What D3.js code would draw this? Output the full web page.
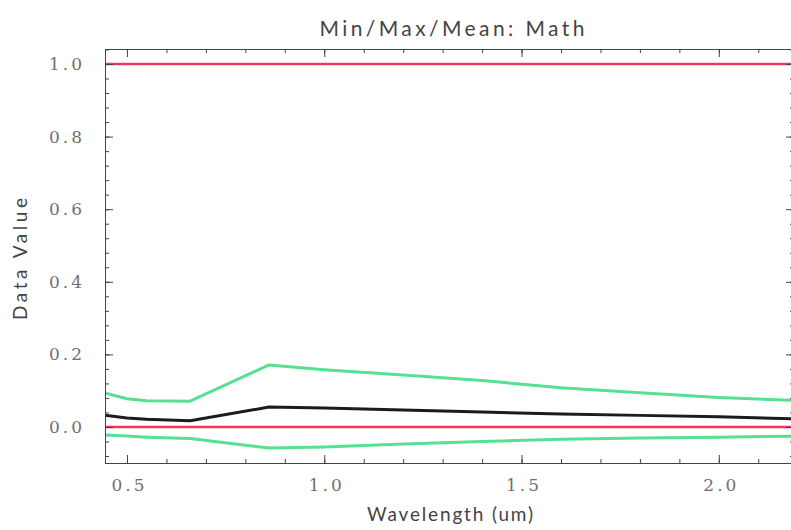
<!DOCTYPE html>
<html>
<head>
<meta charset="utf-8">
<script src="https://cdn.jsdelivr.net/npm/d3@7"></script>
<style>
  html, body { margin: 0; padding: 0; background: #fff; }
  svg { display: block; }
</style>
</head>
<body>
<svg id="chart" width="791" height="530"></svg>
<script>
// Wavelength samples (um) and the four statistics lines
const wavelength = [0.44, 0.5, 0.55, 0.66, 0.86, 1.0, 1.2, 1.4, 1.6, 1.8, 2.0, 2.2];
const maxValues  = [1.0, 1.0, 1.0, 1.0, 1.0, 1.0, 1.0, 1.0, 1.0, 1.0, 1.0, 1.0];
const minValues  = [0.0, 0.0, 0.0, 0.0, 0.0, 0.0, 0.0, 0.0, 0.0, 0.0, 0.0, 0.0];
const meanValues = [0.033, 0.025, 0.021, 0.017, 0.055, 0.052, 0.047, 0.041, 0.036, 0.032, 0.028, 0.022];
const upperStd   = [0.095, 0.078, 0.072, 0.071, 0.171, 0.158, 0.143, 0.128, 0.108, 0.094, 0.081, 0.073];
const lowerStd   = [-0.022, -0.025, -0.028, -0.032, -0.058, -0.055, -0.047, -0.040, -0.034, -0.030, -0.028, -0.025];

const xMajorTicks = [0.5, 1.0, 1.5, 2.0];
const yMajorTicks = [0.0, 0.2, 0.4, 0.6, 0.8, 1.0];

const titleText = "Min/Max/Mean: Math";
const xLabelText = "Wavelength (um)";
const yLabelText = "Data Value";

// Layout - right frame sits just past the edge of the picture
const plot = { left: 105, top: 49, right: 794, bottom: 463 };
const axisColor = "#444";
const labelColor = "#707070";

const svg = d3.select("#chart");

const x = d3.scaleLinear().domain([0.4443, 2.1905]).range([plot.left, plot.right]);
const y = d3.scaleLinear().domain([-0.0992, 1.0413]).range([plot.bottom, plot.top]);

const xMinor = d3.range(0.5, 2.19, 0.1).map(v => +v.toFixed(2));
const yMinor = d3.range(-0.08, 1.05, 0.04).map(v => +v.toFixed(2));

// clip for the lines
svg.append("clipPath").attr("id", "clip")
  .append("rect")
  .attr("x", plot.left).attr("y", plot.top)
  .attr("width", plot.right - plot.left).attr("height", plot.bottom - plot.top);

// Series
const series = [
  { values: maxValues,  color: "#e93a62", width: 2.4 },
  { values: minValues,  color: "#e93a62", width: 2.4 },
  { values: upperStd,   color: "#55e092", width: 3 },
  { values: lowerStd,   color: "#55e092", width: 3 },
  { values: meanValues, color: "#1c1c1c", width: 3 }
];

const line = d3.line()
  .x(d => x(d[0]))
  .y(d => y(d[1]));

svg.append("g").attr("clip-path", "url(#clip)")
  .selectAll("path")
  .data(series)
  .join("path")
  .attr("d", s => line(wavelength.map((w, i) => [w, s.values[i]])))
  .attr("fill", "none")
  .attr("stroke", s => s.color)
  .attr("stroke-width", s => s.width)
  .attr("stroke-linejoin", "round");

// Axes (ticks point inward, IDL style)
function styleAxis(g) {
  g.select(".domain").attr("stroke", axisColor);
  g.selectAll(".tick line").attr("stroke", axisColor);
  g.selectAll(".tick text")
    .attr("fill", labelColor)
    .style("font-family", "'DejaVu Serif', serif")
    .style("font-size", "17px")
    .style("letter-spacing", "3px");
}

// bottom
svg.append("g").attr("transform", `translate(0,${plot.bottom})`)
  .call(d3.axisBottom(x).tickValues(xMinor).tickSize(-4).tickFormat("")).call(styleAxis);
svg.append("g").attr("transform", `translate(0,${plot.bottom})`)
  .call(d3.axisBottom(x).tickValues(xMajorTicks).tickSize(-8).tickPadding(16).tickFormat(d3.format(".1f")))
  .call(styleAxis)
  .call(g => g.select(".domain").remove())
  .call(g => g.selectAll(".tick text").attr("dx", 2));

// top
svg.append("g").attr("transform", `translate(0,${plot.top})`)
  .call(d3.axisTop(x).tickValues(xMinor).tickSize(-4).tickFormat("")).call(styleAxis);
svg.append("g").attr("transform", `translate(0,${plot.top})`)
  .call(d3.axisTop(x).tickValues(xMajorTicks).tickSize(-8).tickFormat(""))
  .call(styleAxis)
  .call(g => g.select(".domain").remove());

// left
svg.append("g").attr("transform", `translate(${plot.left},0)`)
  .call(d3.axisLeft(y).tickValues(yMinor).tickSize(-4).tickFormat("")).call(styleAxis);
svg.append("g").attr("transform", `translate(${plot.left},0)`)
  .call(d3.axisLeft(y).tickValues(yMajorTicks).tickSize(-8).tickPadding(20).tickFormat(d3.format(".1f")))
  .call(styleAxis)
  .call(g => g.select(".domain").remove());

// right
svg.append("g").attr("transform", `translate(${plot.right},0)`)
  .call(d3.axisRight(y).tickValues(yMinor).tickSize(-4).tickFormat("")).call(styleAxis);
svg.append("g").attr("transform", `translate(${plot.right},0)`)
  .call(d3.axisRight(y).tickValues(yMajorTicks).tickSize(-8).tickFormat(""))
  .call(styleAxis)
  .call(g => g.select(".domain").remove());

// Titles
const labelFont = "Lato, 'Open Sans', sans-serif";

svg.append("text")
  .attr("x", 452).attr("y", 36)
  .attr("text-anchor", "middle")
  .attr("fill", "#444")
  .style("font-family", labelFont)
  .style("font-size", "21px")
  .attr("textLength", 265)
  .attr("lengthAdjust", "spacing")
  .text(titleText);

svg.append("text")
  .attr("x", 450).attr("y", 521)
  .attr("text-anchor", "middle")
  .attr("fill", "#444")
  .style("font-family", labelFont)
  .style("font-size", "19px")
  .attr("textLength", 166)
  .attr("lengthAdjust", "spacing")
  .text(xLabelText);

svg.append("text")
  .attr("transform", "translate(27,259) rotate(-90)")
  .attr("text-anchor", "middle")
  .attr("fill", "#444")
  .style("font-family", labelFont)
  .style("font-size", "19px")
  .attr("textLength", 122)
  .attr("lengthAdjust", "spacing")
  .text(yLabelText);
</script>
</body>
</html>
